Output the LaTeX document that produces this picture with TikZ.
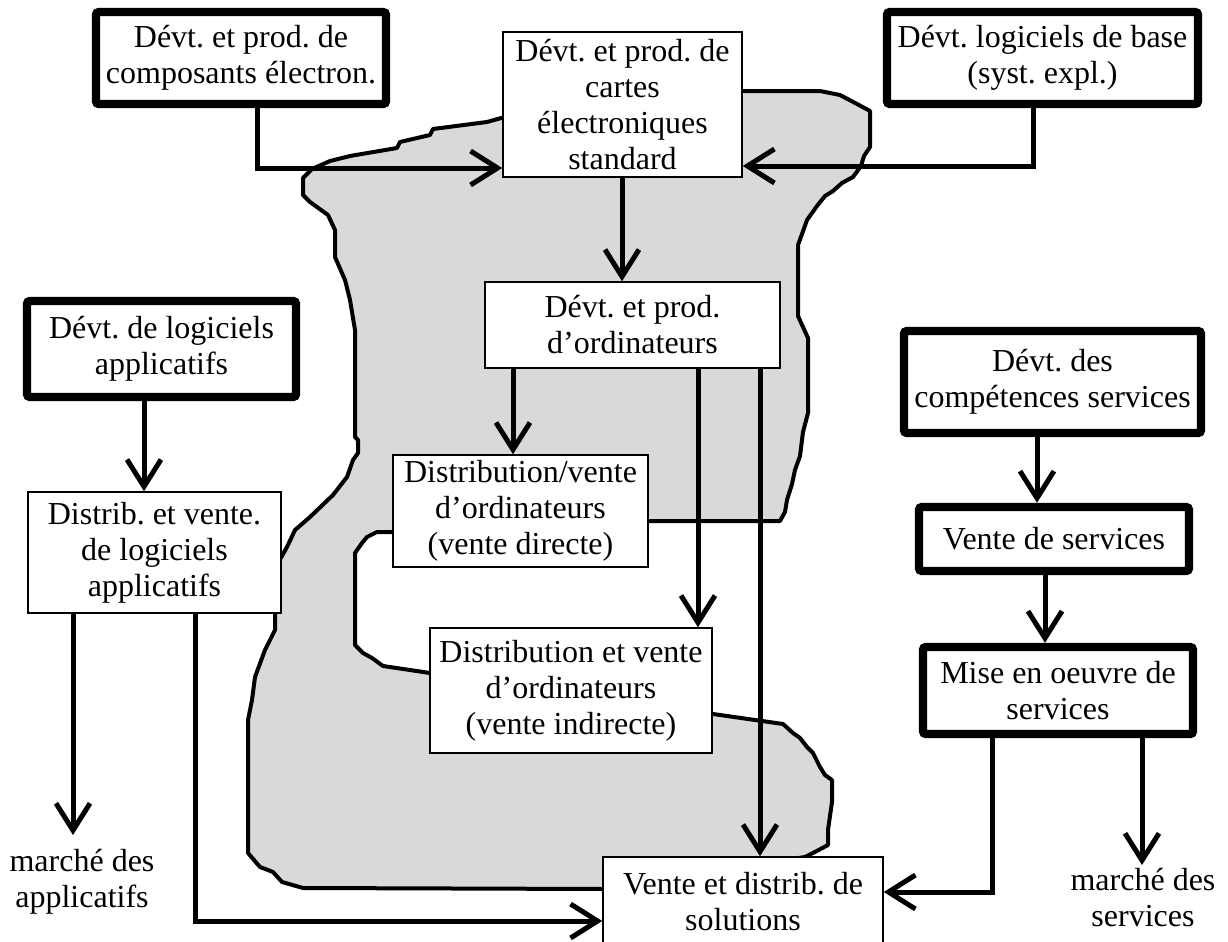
\documentclass[tikz,border=0pt]{standalone}
\usepackage{fontspec}
\setmainfont{Liberation Serif}
\usetikzlibrary{arrows.meta}
\frenchspacing
\begin{document}
\begin{tikzpicture}[x=0.5pt,y=-0.5pt,
  thinbox/.style={draw, line width=0.75pt, fill=white, align=center, inner sep=0pt, font=\fontsize{16}{18}\selectfont},
  thickbox/.style={thinbox, line width=4.2pt, rounded corners=1.5pt},
  arr/.style={line width=2.5pt, -{Straight Barb[length=13.5pt,width=17pt]}},
  lbl/.style={align=center, inner sep=0pt, font=\fontsize{16}{18}\selectfont},
  blob/.style={fill=gray!30, draw=black, line width=2pt, line join=round}]
\useasboundingbox (0,0) rectangle (1228,942);
\clip (0,0) rectangle (1228,942);
\fill[white] (0,0) rectangle (1228,942);

% grey region
\draw[blob] (303,178) -- (312,169) -- (330,161) -- (350,156) -- (397,148) -- (400,142) -- (430,135) -- (433,129) -- (487,122) -- (505,117)
 -- (743,91) -- (820,91) -- (840,95) -- (857,104) -- (870,111) -- (870,147) -- (864,156) -- (861,166) -- (853,177) -- (842,183)
 -- (833,191) -- (825,196) -- (817,206) -- (807,220) -- (802,234) -- (798,245) -- (798,316) -- (808,338) -- (808,413) -- (803,432)
 -- (800,456) -- (795,470) -- (792,484) -- (787,500) -- (785,512) -- (780,521) -- (648,521) -- (393,532) -- (377,532) -- (367,537)
 -- (362,543) -- (355,553) -- (355,645) -- (363,653) -- (372,658) -- (383,666) -- (430,673) -- (713,714) -- (783,724) -- (793,733)
 -- (800,738) -- (807,747) -- (813,753) -- (820,767) -- (825,775) -- (832,780) -- (832,802) -- (828,830) -- (828,845) -- (813,853)
 -- (805,857) -- (603,889) -- (303,888) -- (282,882) -- (273,872) -- (260,867) -- (248,853) -- (248,720) -- (252,700) -- (255,677)
 -- (265,650) -- (275,630) -- (275,570) -- (278,563) -- (287,547) -- (295,530) -- (310,517) -- (333,495) -- (347,477) -- (353,460)
 -- (358,453) -- (358,440) -- (355,437) -- (355,330) -- (350,300) -- (345,280) -- (335,257) -- (335,230) -- (328,215) -- (310,202)
 -- (303,195) -- cycle;

% boxes
\node[thickbox, minimum width=145pt, minimum height=46pt] (b1) at (241,58) {Dévt. et prod. de\\composants électron.};
\node[thinbox, minimum width=119.5pt, minimum height=72.5pt] (b2) at (622.5,104.5) {Dévt. et prod. de\\cartes\\électroniques\\standard};
\node[thickbox, minimum width=155.5pt, minimum height=46pt] (b3) at (1042.5,58) {Dévt. logiciels de base\\(syst. expl.)};
\node[thinbox, minimum width=147.5pt, minimum height=43pt] (b4) at (632.5,325) {Dévt. et prod.\\d’ordinateurs};
\node[thickbox, minimum width=134.5pt, minimum height=48pt] (b5) at (161.5,349) {Dévt. de logiciels\\applicatifs};
\node[thinbox, minimum width=126.5pt, minimum height=60.5pt] (b6) at (154.5,552.5) {Distrib. et vente.\\de logiciels\\applicatifs};
\node[thinbox, minimum width=127.5pt, minimum height=56pt] (b7) at (520.5,511) {Distribution/vente\\d’ordinateurs\\(vente directe)};
\node[thinbox, minimum width=141pt, minimum height=62.5pt] (b8) at (571,690.5) {Distribution et vente\\d’ordinateurs\\(vente indirecte)};
\node[thinbox, minimum width=140pt, minimum height=45pt] (b9) at (743,902) {Vente et distrib. de\\solutions};
\node[thickbox, minimum width=148.5pt, minimum height=51pt] (b10) at (1052.5,382) {Dévt. des\\compétences services};
\node[thickbox, minimum width=135pt, minimum height=32pt] (b11) at (1054,539) {Vente de services};
\node[thickbox, minimum width=135pt, minimum height=43.5pt] (b12) at (1058,690.5) {Mise en oeuvre de\\services};
\node[lbl] (m1) at (82,882) {marché des\\applicatifs};
\node[lbl] (m2) at (1143,898) {marché des\\services};

% helper coordinates
\coordinate (k1) at (257,168);
\coordinate (k3) at (1033,166);
\coordinate (k2) at (622,0);
\coordinate (k4a) at (513,0);
\coordinate (k4b) at (698,0);
\coordinate (k4c) at (760,0);
\coordinate (k5) at (144,0);
\coordinate (t1) at (73,835);
\coordinate (k6b) at (195,921);
\coordinate (k10) at (1037,0);
\coordinate (k11) at (1045,0);
\coordinate (k12a) at (992,892);
\coordinate (t2) at (1142,865);

% connectors
\draw[arr] (b1.south -| k1) |- (b2.west |- k1);
\draw[arr] (b3.south -| k3) |- (b2.east |- k3);
\draw[arr] (b2.south -| k2) -- (b4.north -| k2);
\draw[arr] (b4.south -| k4a) -- (b7.north -| k4a);
\draw[arr] (b4.south -| k4b) -- (b8.north -| k4b);
\draw[arr] (b4.south -| k4c) -- (b9.north -| k4c);
\draw[arr] (b5.south -| k5) -- (b6.north -| k5);
\draw[arr] (b6.south -| t1) -- (t1);
\draw[arr] (b6.south -| k6b) |- (b9.west |- k6b);
\draw[arr] (b10.south -| k10) -- (b11.north -| k10);
\draw[arr] (b11.south -| k11) -- (b12.north -| k11);
\draw[arr] (b12.south -| k12a) |- (b9.east |- k12a);
\draw[arr] (b12.south -| t2) -- (t2);
\end{tikzpicture}
\end{document}
